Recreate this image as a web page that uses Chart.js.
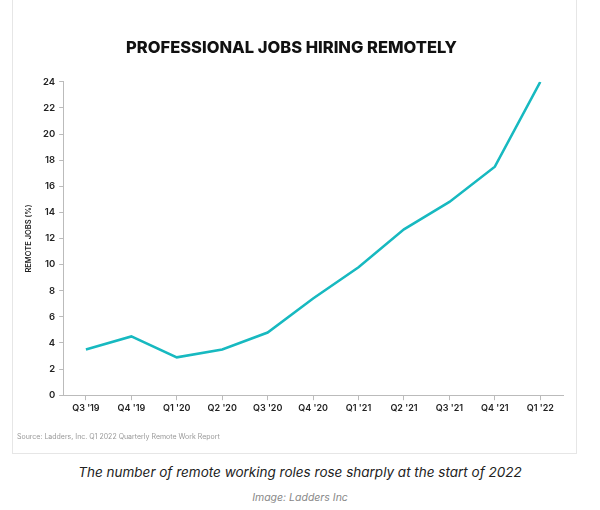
<!DOCTYPE html>
<html><head><meta charset="utf-8">
<script src="https://cdn.jsdelivr.net/npm/chart.js@4/dist/chart.umd.min.js"></script>
<style>
body{margin:0;width:600px;height:510px;background:#fff;font-family:Inter,"Noto Sans",sans-serif;position:relative;overflow:hidden}
#card{position:absolute;left:12px;top:-2px;width:565px;height:456px;border:1px solid #e6e6e6;box-sizing:border-box}
#wrap{position:absolute;left:0;top:0;width:600px;height:452px}
.src{position:absolute;left:17px;top:432px;font-size:7px;color:#999}
.cap{position:absolute;left:0;width:600px;text-align:center;top:464px;font-style:italic;font-size:13.5px;color:#222}
.img{position:absolute;left:0;width:600px;text-align:center;top:491px;font-style:italic;font-size:10.5px;color:#888}
</style></head><body>
<div id="card"></div>
<div id="wrap"><canvas id="c"></canvas></div>
<div class="src">Source: Ladders, Inc. Q1 2022 Quarterly Remote Work Report</div>
<div class="cap">The number of remote working roles rose sharply at the start of 2022</div>
<div class="img">Image: Ladders Inc</div>
<script>
const categories=["Q3 '19","Q4 '19","Q1 '20","Q2 '20","Q3 '20","Q4 '20","Q1 '21","Q2 '21","Q3 '21","Q4 '21","Q1 '22"];
const remoteJobs=[3.5,4.5,2.9,3.5,4.8,7.4,9.8,12.7,14.8,17.5,24];
const yTitle="REMOTE JOBS (%)";
const chartTitle="PROFESSIONAL JOBS HIRING REMOTELY";
new Chart(document.getElementById('c'),{
type:'line',
data:{labels:categories,datasets:[{data:remoteJobs,borderColor:'#17b9c0',borderWidth:2.5,pointRadius:0,tension:0,fill:false}]},
options:{responsive:true,maintainAspectRatio:false,animation:false,
layout:{padding:{left:20,right:37,top:38,bottom:35}},
plugins:{legend:{display:false},tooltip:{enabled:false},
title:{display:true,text:chartTitle,color:'#111',font:{family:'Inter',size:16.5,weight:'800'},padding:{top:0,bottom:24}}},
scales:{
x:{offset:true,grid:{display:true,drawOnChartArea:false,tickLength:5,color:'#bbb'},border:{color:'#bbb'},
ticks:{color:'#222',font:{family:'Inter',size:9,weight:'600'},maxRotation:0,padding:3}},
y:{min:0,max:24,
grid:{display:true,drawOnChartArea:false,tickLength:4,color:'#bbb'},border:{color:'#bbb'},
ticks:{stepSize:2,color:'#222',font:{family:'Inter',size:9.5,weight:'600'},padding:4},
title:{display:true,text:yTitle,color:'#222',font:{family:'Inter',size:7.5,weight:'600'},padding:{bottom:6}}}
}}});
</script></body></html>
